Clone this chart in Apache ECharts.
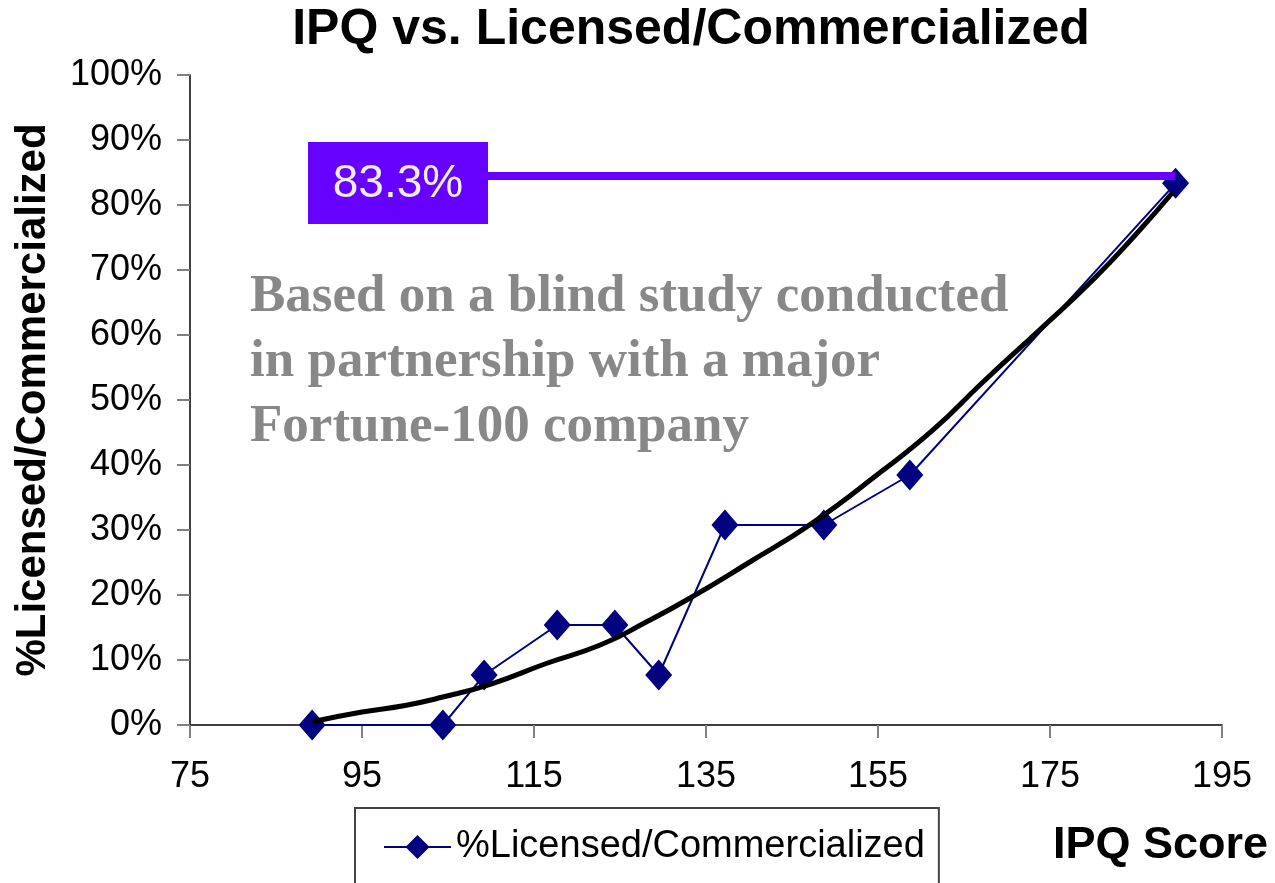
<!DOCTYPE html>
<html>
<head>
<meta charset="utf-8">
<script src="https://cdn.jsdelivr.net/npm/echarts@6/dist/echarts.min.js"></script>
<style>
  html, body { margin: 0; padding: 0; background: #fff; }
  #chart { width: 1275px; height: 883px; }
</style>
</head>
<body>
<div id="chart"></div>
<script>
// IPQ score vs % licensed/commercialized
const ipqScores = [89.2, 104.4, 109.2, 117.7, 124.4, 129.5, 137.2, 148.7, 158.7, 189.6]
const pctLicensed = [0, 0, 7.69, 15.38, 15.38, 7.69, 30.77, 30.77, 38.46, 83.33]

// trend line
const trendX = [89.2, 95, 100, 104.4, 110, 116.5, 122.7, 128, 133.1, 140, 147.4, 155.2, 161.4, 167, 173.8, 180, 185, 189.3]
const trendY = [0.5, 2.0, 3.0, 4.3, 6.3, 9.5, 12.3, 15.8, 19.5, 25, 31.1, 38.8, 45.4, 52.5, 60.8, 68.5, 75.5, 82]

const xTicks = [75, 95, 115, 135, 155, 175, 195]
const calloutText = '83.3%'
const calloutLevel = 84.5
const calloutStartX = 109.65
const noteLines = ['Based on a blind study conducted', 'in partnership with a major', 'Fortune-100 company']

const seriesName = '%Licensed/Commercialized'

const chart = echarts.init(document.getElementById('chart'))

const option = {
  animation: false,
  textStyle: { fontFamily: 'Liberation Sans, Arial, sans-serif' },
  grid: { left: 190, right: 53, top: 75, bottom: 158, containLabel: false, outerBoundsMode: 'none' },
  legend: {
    data: [seriesName],
    left: 355,
    top: 808,
    itemWidth: 67,
    itemHeight: 30,
    itemGap: 0,
    padding: [20, 14, 40, 28],
    borderColor: '#444',
    borderWidth: 2,
    textStyle: { fontSize: 38, color: '#000', fontFamily: 'Liberation Sans, Arial' }
  },
  xAxis: {
    type: 'value',
    min: xTicks[0],
    max: xTicks[xTicks.length - 1],
    interval: 20,
    splitLine: { show: false },
    axisLine: { lineStyle: { color: '#000', width: 1.5 } },
    axisTick: { length: 13, lineStyle: { color: '#808080', width: 2 } },
    axisLabel: { fontSize: 36, color: '#000', margin: 34 }
  },
  yAxis: {
    type: 'value',
    min: 0,
    max: 100,
    interval: 10,
    name: '%Licensed/Commercialized',
    nameLocation: 'middle',
    nameRotate: 90,
    nameGap: 136,
    nameTextStyle: { fontSize: 42, fontWeight: 'bold', color: '#000' },
    splitLine: { show: false },
    axisLine: { show: true, lineStyle: { color: '#000', width: 1.5 } },
    axisTick: { show: true, length: 13, lineStyle: { color: '#808080', width: 2 } },
    axisLabel: { fontSize: 36, color: '#000', margin: 28, formatter: '{value}%' }
  },
  graphic: [
    {
      type: 'text',
      style: {
        text: 'IPQ vs. Licensed/Commercialized',
        x: 691, y: 30,
        align: 'center', verticalAlign: 'middle',
        font: 'bold 50px "Liberation Sans", Arial',
        fill: '#000'
      }
    },
    {
      type: 'text',
      style: {
        text: 'IPQ Score',
        x: 1268, y: 846,
        align: 'right', verticalAlign: 'middle',
        font: 'bold 45px "Liberation Sans", Arial',
        fill: '#000'
      }
    },
    {
      type: 'rect',
      shape: { x: 308, y: 142, width: 180, height: 82 },
      style: { fill: '#6600ff' },
      z: 20
    },
    {
      type: 'text',
      z: 21,
      style: {
        text: calloutText,
        x: 398, y: 184,
        align: 'center', verticalAlign: 'middle',
        font: '46px "Liberation Sans", Arial',
        fill: '#eeeeee'
      }
    }
  ].concat(noteLines.map((line, i) => ({
    type: 'text',
    style: {
      text: line,
      x: 250, y: 297 + i * 65,
      align: 'left', verticalAlign: 'middle',
      font: 'bold 53px "Liberation Serif", "Times New Roman", serif',
      fill: '#888888'
    }
  }))),
  series: [
    {
      name: seriesName,
      type: 'line',
      data: ipqScores.map((x, i) => [x, pctLicensed[i]]),
      symbol: 'diamond',
      symbolSize: [27, 31],
      itemStyle: { color: '#000080' },
      lineStyle: { color: '#000080', width: 2 },
      z: 3,
      markLine: {
        silent: true,
        symbol: 'none',
        label: { show: false },
        lineStyle: { color: '#6a00ff', width: 8, type: 'solid' },
        data: [[{ coord: [calloutStartX, calloutLevel] }, { coord: [ipqScores[ipqScores.length - 1], calloutLevel] }]],
        z: 10
      }
    },
    {
      name: 'trend',
      type: 'line',
      data: trendX.map((x, i) => [x, trendY[i]]),
      smooth: true,
      showSymbol: false,
      lineStyle: { color: '#000', width: 5 },
      z: 4
    }
  ]
}

chart.setOption(option)
</script>
</body>
</html>
